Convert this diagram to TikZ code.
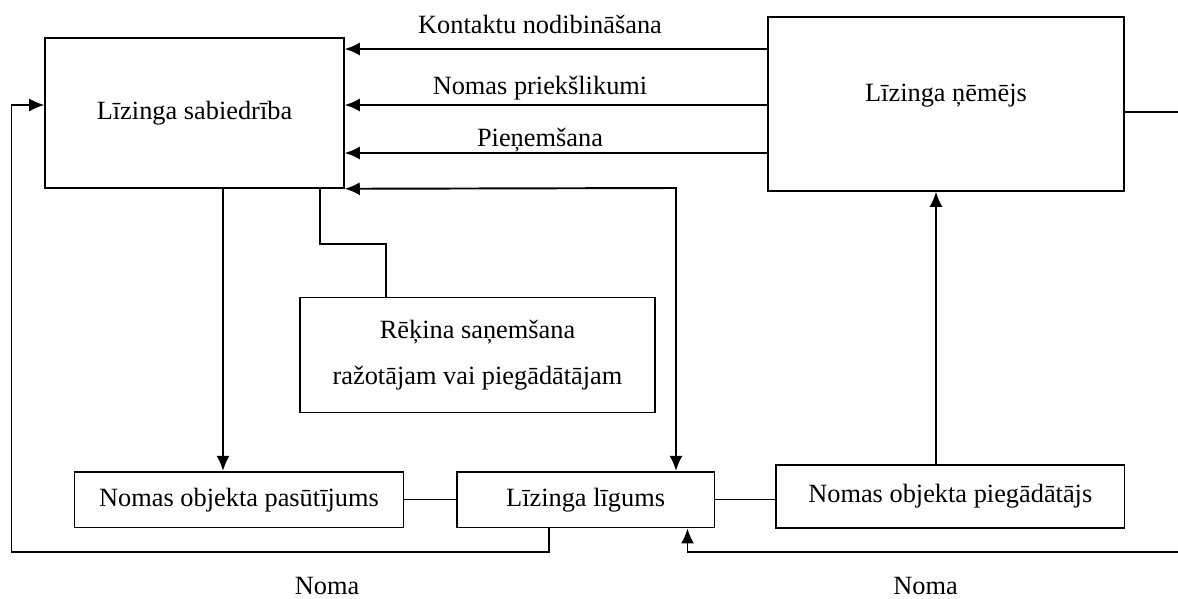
\documentclass[tikz,border=0pt]{standalone}
\usepackage{fontspec}
\setmainfont{Liberation Serif}
\usetikzlibrary{arrows.meta}
\tikzset{
    box/.style={draw, line width=0.9pt, align=center, inner sep=0pt},
    flow/.style={line width=1.1pt},
    wire/.style={line width=0.9pt}
}
\begin{document}
\begin{tikzpicture}[>={Latex[length=3mm,width=2.6mm]}, x=0.02cm, y=-0.02cm, font=\fontsize{15pt}{26pt}\selectfont]
            \useasboundingbox (0, 0) rectangle (1178, 599);
            \node[box, minimum width=5.98cm, minimum height=3cm] (sabiedriba) at (194.5, 113) {Līzinga sabiedrība};
            \node[box, minimum width=7.12cm, minimum height=3.48cm] (nemejs) at (946, 104) {};
            \node[anchor=base] (nemejsTxt) at (946, 101.7) {Līzinga ņēmējs};
            \node[box, minimum width=7.1cm, minimum height=2.3cm] (rekins) at (477.5, 355) {Rēķina saņemšana\\ražotājam vai piegādātājam};
            \node[box, minimum width=6.58cm, minimum height=1.12cm] (pasutijums) at (239, 499.7) {Nomas objekta pasūtījums};
            \node[box, minimum width=5.15cm, minimum height=1.12cm] (ligums) at (585.6, 499.7) {Līzinga līgums};
            \node[box, minimum width=6.97cm, minimum height=1.25cm] (piegadatajs) at (950.3, 496.5) {Nomas objekta piegādātājs};
            \foreach \y/\b/\txt in {49/33/Kontaktu nodibināšana, 105/94/Nomas priekšlikumi, 153/146.7/Pieņemšana}
            {
                \coordinate (l\y) at (0, \y);
                \draw[flow, ->] (nemejs.west |- l\y) -- (sabiedriba.east |- l\y);
                \node[anchor=base] (t\y) at (540, \b) {\txt};
            }
            \coordinate (ret) at (676, 188);
            \draw[flow, <->] (sabiedriba.south east) -- (ret) -- (ret |- ligums.north);
            \coordinate (pas) at (223, 0);
            \draw[flow, ->] (sabiedriba.south -| pas) -- (pasutijums.north -| pas);
            \coordinate (r1) at (320, 244);
            \coordinate (r2) at (386, 244);
            \draw[wire] (sabiedriba.south -| r1) -- (r1) -- (r2) -- (rekins.north -| r2);
            \coordinate (e1) at (1178, 112);
            \draw[wire] (nemejs.east |- e1) -- (e1);
            \coordinate (p1) at (936, 0);
            \draw[flow, ->] (piegadatajs.north -| p1) -- (nemejs.south -| p1);
            \draw[wire] (pasutijums.east) -- (ligums.west);
            \draw[wire] (ligums.east) -- (ligums.east -| piegadatajs.west);
            \coordinate (n1) at (549, 552);
            \coordinate (n2) at (11.5, 552);
            \coordinate (n3) at (11.5, 105);
            \draw[wire, ->] (ligums.south -| n1) -- (n1) -- (n2) -- (n3) -- (sabiedriba.west |- n3);
            \coordinate (m1) at (1178, 552);
            \coordinate (m2) at (687.5, 552);
            \draw[wire, ->] (m1) -- (m2) -- (ligums.south -| m2);
            \node[anchor=base, inner sep=0pt] (noma1) at (327, 594) {Noma};
            \node[anchor=base, inner sep=0pt] (noma2) at (925.6, 594) {Noma};
        \end{tikzpicture}
\end{document}
